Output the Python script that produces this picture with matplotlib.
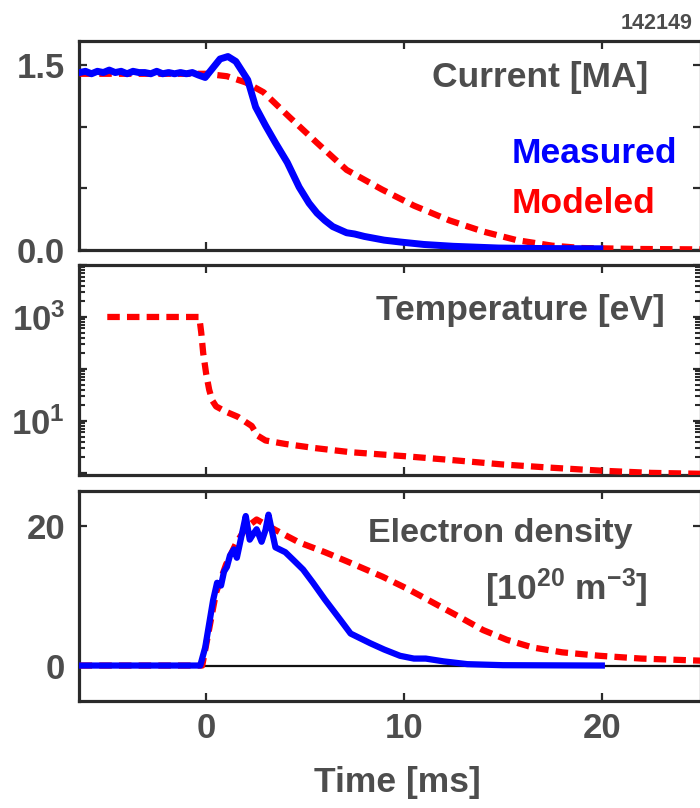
import matplotlib
matplotlib.use("Agg")
import matplotlib.pyplot as plt
from matplotlib.ticker import FixedLocator, LogLocator, NullFormatter, FixedFormatter

plt.rcParams['font.family'] = ['Liberation Sans', 'DejaVu Sans']
plt.rcParams['font.weight'] = 'bold'
plt.rcParams['mathtext.default'] = 'regular'

# ---------------- data ----------------
t_cur_meas = [-6.4, -6.1, -5.8, -5.5, -5.2, -4.9, -4.6, -4.3, -4.0, -3.7, -3.4, -3.1,
              -2.8, -2.5, -2.2, -1.9, -1.6, -1.3, -1.0, -0.7, -0.4, -0.05, 0.3, 0.7,
              1.1, 1.5, 2.1, 2.5, 3.0, 3.5, 4.1, 4.7, 5.2, 5.6, 6.0, 6.4, 7.1, 7.5,
              8.0, 9.0, 9.8, 11.0, 12.5, 14.8, 17.0, 19.9]
cur_meas = [1.44, 1.45, 1.43, 1.45, 1.44, 1.46, 1.44, 1.45, 1.43, 1.45, 1.44, 1.44,
            1.43, 1.45, 1.43, 1.44, 1.43, 1.44, 1.43, 1.44, 1.42, 1.40, 1.47, 1.55,
            1.57, 1.53, 1.38, 1.16, 1.01, 0.87, 0.71, 0.51, 0.38, 0.30, 0.24, 0.19, 0.14, 0.13,
            0.11, 0.08, 0.065, 0.045, 0.03, 0.016, 0.012, 0.01]

t_cur_mod = [-6.4, -2.0, 0.0, 1.05, 2.0, 2.9, 4.2, 5.6, 7.1, 8.9, 10.5, 12.3, 14.0, 15.7, 17.5, 19.0, 22.0, 25.0]
cur_mod = [1.43, 1.43, 1.43, 1.41, 1.36, 1.28, 1.08, 0.87, 0.65, 0.49, 0.36, 0.24, 0.15, 0.08, 0.035, 0.016, 0.008, 0.005]

t_temp = [-5.0, -0.35, -0.25, -0.15, 0.0, 0.15, 0.3, 0.5, 1.0, 1.6, 2.0, 2.3, 2.6, 3.0,
          4.0, 5.5, 7.3, 10.0, 12.3, 15.0, 17.4, 20.0, 22.5, 25.0]
temp = [1000, 1000, 500, 200, 80, 40, 25, 19, 15, 12, 9.5, 8.0, 5.2, 4.2,
        3.6, 3.0, 2.5, 2.1, 1.78, 1.45, 1.26, 1.1, 1.0, 0.96]

t_dens_meas = [-6.4, -0.3, -0.05, 0.35, 0.55, 0.75, 0.9, 1.05, 1.2, 1.4, 1.55, 1.7, 1.85, 2.0,
               2.2, 2.4, 2.55, 2.8, 3.0, 3.15, 3.35, 3.5, 4.0, 4.4, 4.9, 5.4, 6.0, 6.8,
               7.3, 8.3, 9.0, 9.8, 10.5, 11.1, 12.0, 13.2, 15.0, 20.0]
dens_meas = [0.0, 0.0, 2.6, 9.4, 11.9, 11.5, 13.5, 14.2, 15.8, 16.7, 15.5, 17.5, 19.5, 21.5,
             18.1, 19.0, 19.6, 17.8, 19.5, 21.7, 19.0, 17.0, 16.3, 15.2, 13.8, 11.9, 9.5, 6.5,
             4.6, 3.2, 2.3, 1.4, 1.0, 1.0, 0.6, 0.2, 0.05, 0.0]

t_dens_mod = [-6.4, -0.2, 0.0, 0.5, 1.0, 1.5, 2.0, 2.55, 3.0, 3.5, 4.7, 6.0, 7.1, 8.9, 10.2,
              11.5, 12.8, 14.0, 15.2, 16.5, 18.0, 19.9, 22.0, 25.0]
dens_mod = [0.0, 0.0, 3.0, 10.5, 14.5, 17.5, 19.8, 21.0, 20.3, 19.5, 17.7, 16.3, 15.0, 12.8, 11.0,
            9.0, 7.0, 5.1, 3.7, 2.6, 1.9, 1.4, 1.0, 0.7]

shot = "142149"
x_ticks = [0, 10, 20]

# ---------------- style ----------------
W, H = 700, 808
fig = plt.figure(figsize=(W / 100, H / 100), dpi=100)
TXT = '#4d4d4d'
SPINE = '#2a2a2a'
BLUE = '#0000ff'
RED = '#ff0000'

def ax_at(top_px, bot_px):
    return fig.add_axes([79 / W, 1 - bot_px / H, 1.0 - 79 / W + 0.001, (bot_px - top_px) / H])

ax1 = ax_at(40.5, 250)
ax2 = ax_at(265, 475)
ax3 = ax_at(491, 701)
ax2.set_yscale('log')

for ax in (ax1, ax2, ax3):
    ax.set_xlim(-6.43, 25.0)
    for s in ax.spines.values():
        s.set_linewidth(2.3)
        s.set_color(SPINE)
    ax.xaxis.set_major_locator(FixedLocator(x_ticks))

dash = (2.0, 1.15)

# Panel 1 - current
ax1.plot(t_cur_mod, cur_mod, color=RED, lw=4.5, dashes=dash, zorder=3)
ax1.plot(t_cur_meas, cur_meas, color=BLUE, lw=5, zorder=4, solid_joinstyle='round')
ax1.set_ylim(0, 1.70)
ax1.yaxis.set_major_locator(FixedLocator([0, 0.5, 1.0, 1.5]))
ax1.yaxis.set_major_formatter(FixedFormatter(['0.0', '', '', '1.5']))

# Panel 2 - temperature (log)
ax2.plot(t_temp, temp, color=RED, lw=4.5, dashes=dash, zorder=3)
ax2.set_ylim(0.91, 1e4)
ax2.yaxis.set_major_locator(FixedLocator([1, 10, 100, 1000, 10000]))
ax2.yaxis.set_major_formatter(FixedFormatter(['', r'$10^1$', '', r'$10^3$', '']))
ax2.yaxis.set_minor_locator(LogLocator(base=10, subs=(2, 3, 4, 5, 6, 7, 8, 9), numticks=20))
ax2.yaxis.set_minor_formatter(NullFormatter())

# Panel 3 - density
ax3.axhline(0, color='#111111', lw=1.6, zorder=2)
ax3.plot(t_dens_mod, dens_mod, color=RED, lw=4.5, dashes=dash, zorder=3)
ax3.plot(t_dens_meas, dens_meas, color=BLUE, lw=4.5, zorder=4, solid_joinstyle='round')
ax3.set_ylim(-5.1, 25.1)
ax3.yaxis.set_major_locator(FixedLocator([0, 20]))
ax3.yaxis.set_major_formatter(FixedFormatter(['0', '20']))
ax3.xaxis.set_major_formatter(FixedFormatter([str(v) for v in x_ticks]))

for ax in (ax1, ax2, ax3):
    ax.tick_params(which='both', direction='in', top=True, right=True,
                   color=SPINE, labelcolor=TXT, labelsize=25, width=1.6)
    ax.tick_params(which='major', length=6, pad=10)
    ax.tick_params(which='minor', length=4, width=1.5)
ax1.tick_params(axis='x', labelbottom=False)
ax2.tick_params(axis='x', labelbottom=False)
ax3.tick_params(axis='x', pad=8)

for ax in (ax1, ax2, ax3):
    for lab in ax.get_xticklabels() + ax.get_yticklabels():
        lab.set_fontweight('bold')

def ftext(xpx, ypx, s, **kw):
    fig.text(xpx / W, 1 - ypx / H, s, fontweight='bold', **kw)

FS = 25.5
ftext(692, 29, shot, fontsize=15.5, color=TXT, ha='right', va='baseline')
ftext(648, 87, 'Current [MA]', fontsize=FS, color=TXT, ha='right', va='baseline')
ftext(512, 163, 'Measured', fontsize=FS, color=BLUE, ha='left', va='baseline')
ftext(512, 213, 'Modeled', fontsize=FS, color=RED, ha='left', va='baseline')
ftext(665, 320, 'Temperature [eV]', fontsize=FS, color=TXT, ha='right', va='baseline')
ftext(632, 542, 'Electron density', fontsize=24.5, color=TXT, ha='right', va='baseline')
ftext(648, 600, r'[$10^{20}$ m$^{-3}$]', fontsize=FS, color=TXT, ha='right', va='baseline')
ftext(397, 792, 'Time [ms]', fontsize=FS, color=TXT, ha='center', va='baseline')

fig.savefig('out.png', dpi=100)
